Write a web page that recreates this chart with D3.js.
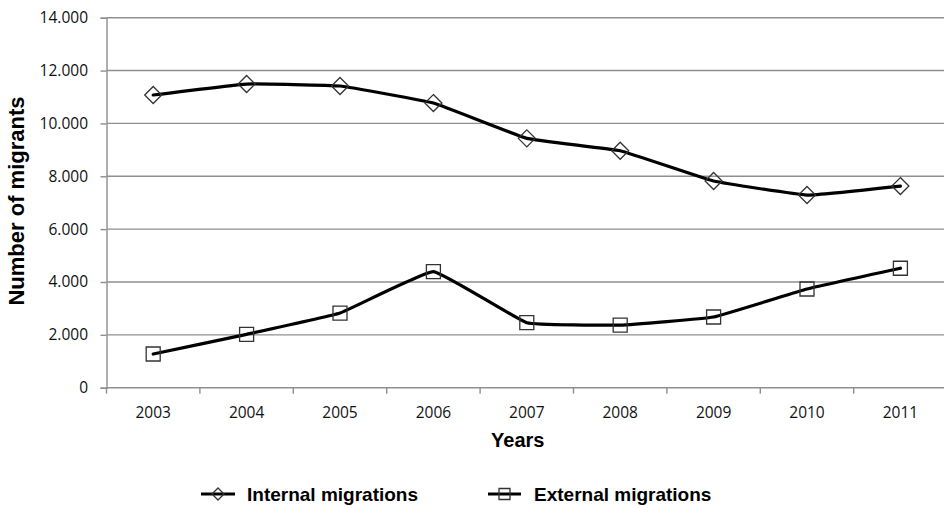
<!DOCTYPE html>
<html>
<head>
<meta charset="utf-8">
<script src="https://cdn.jsdelivr.net/npm/d3@7"></script>
<style>
  html, body { margin: 0; padding: 0; background: #fff; }
  svg { display: block; }
</style>
</head>
<body>
<svg id="chart" width="944" height="508"></svg>
<script>
// Data
const years = ["2003", "2004", "2005", "2006", "2007", "2008", "2009", "2010", "2011"];
const internalMigrations = [11075, 11490, 11415, 10770, 9435, 8965, 7820, 7290, 7630];
const externalMigrations = [1275, 2020, 2825, 4390, 2460, 2370, 2675, 3735, 4520];
const yTickValues = [0, 2000, 4000, 6000, 8000, 10000, 12000, 14000];
const seriesNames = ["Internal migrations", "External migrations"];
const seriesMarkers = ["diamond", "square"];

const svg = d3.select("#chart");
const W = 944, H = 508;
const plotLeft = 106.5, plotTop = 17.7, plotBottom = 387.7, step = 93.4;
const plotRight = plotLeft + step * years.length;

const x = d3.scaleBand().domain(years).range([plotLeft, plotRight]).paddingInner(0).paddingOuter(0);
const y = d3.scaleLinear().domain([0, 14000]).range([plotBottom, plotTop]);

const locale = d3.formatLocale({ decimal: ",", thousands: ".", grouping: [3], currency: ["", ""] });
const fmt = locale.format(",d");

const gridColor = "#8f8f8f";
const tickFont = "'Open Sans', 'Liberation Sans', sans-serif";

// Horizontal gridlines
svg.append("g").selectAll("line").data(yTickValues.filter(d => d > 0)).join("line")
  .attr("x1", plotLeft).attr("x2", W)
  .attr("y1", d => y(d)).attr("y2", d => y(d))
  .attr("stroke", gridColor).attr("stroke-width", 1.4);

// Y axis
const yAxis = svg.append("g").attr("transform", `translate(${plotLeft},0)`)
  .call(d3.axisLeft(y).tickValues(yTickValues).tickFormat(fmt).tickSize(6).tickPadding(12.5));
yAxis.select(".domain").attr("stroke", gridColor).attr("stroke-width", 1.4);
yAxis.selectAll(".tick line").attr("stroke", gridColor).attr("stroke-width", 1.4);
yAxis.selectAll(".tick text").attr("font-family", tickFont).attr("font-size", 15.5).attr("fill", "#111");

// X axis: labels centred in each category, ticks on category boundaries
const xAxis = svg.append("g").attr("transform", `translate(0,${plotBottom})`)
  .call(d3.axisBottom(x).tickSize(0).tickPadding(19.4));
xAxis.select(".domain").remove();
xAxis.selectAll(".tick text").attr("font-family", tickFont).attr("font-size", 15.5).attr("fill", "#111");
svg.append("line").attr("x1", plotLeft).attr("x2", W).attr("y1", plotBottom).attr("y2", plotBottom)
  .attr("stroke", gridColor).attr("stroke-width", 1.4);
svg.append("g").selectAll("line").data(years).join("line")
  .attr("x1", d => x(d)).attr("x2", d => x(d))
  .attr("y1", plotBottom).attr("y2", plotBottom + 6)
  .attr("stroke", gridColor).attr("stroke-width", 1.4);

// Axis titles
const titleFont = "'Liberation Sans', Arial, sans-serif";
svg.append("text").attr("x", (plotLeft + plotRight) / 2 - 9).attr("y", 447)
  .attr("text-anchor", "middle").attr("font-family", titleFont).attr("font-weight", "bold")
  .attr("font-size", 20).attr("fill", "#000").text("Years");
svg.append("text").attr("transform", "translate(24,201) rotate(-90)")
  .attr("text-anchor", "middle").attr("font-family", titleFont).attr("font-weight", "bold")
  .attr("font-size", 22).attr("fill", "#000").text("Number of migrants");

// Markers
function markerPath(type, r) {
  if (type === "diamond") return `M0,${-r}L${r},0L0,${r}L${-r},0Z`;
  return `M${-r},${-r}H${r}V${r}H${-r}Z`;
}

const seriesData = [internalMigrations, externalMigrations];
// Lightly smoothed lines
const line = d3.line()
  .x((d, i) => x(years[i]) + x.bandwidth() / 2)
  .y(d => y(d))
  .curve(d3.curveCardinal.tension(0.72));

seriesData.forEach((vals, si) => {
  const g = svg.append("g");
  g.append("path").datum(vals).attr("d", line)
    .attr("fill", "none").attr("stroke", "#000").attr("stroke-width", 3.2)
    .attr("stroke-linejoin", "round").attr("stroke-linecap", "round");
  g.selectAll("path.m").data(vals).join("path").attr("class", "m")
    .attr("transform", (d, i) => `translate(${x(years[i]) + x.bandwidth() / 2},${y(d)})`)
    .attr("d", markerPath(seriesMarkers[si], seriesMarkers[si] === "diamond" ? 8.5 : 7))
    .attr("fill", "none").attr("stroke", "#333").attr("stroke-width", 1.3);
});

// Legend
const legendItems = [{ x0: 201, x1: 235, tx: 247 }, { x0: 488, x1: 521, tx: 534 }];
const ly = 494;
seriesNames.forEach((name, i) => {
  const L = legendItems[i];
  const g = svg.append("g");
  g.append("line").attr("x1", L.x0).attr("x2", L.x1).attr("y1", ly).attr("y2", ly)
    .attr("stroke", "#000").attr("stroke-width", 3);
  g.append("path").attr("transform", `translate(${(L.x0 + L.x1) / 2},${ly})`)
    .attr("d", markerPath(seriesMarkers[i], seriesMarkers[i] === "diamond" ? 6 : 5.5))
    .attr("fill", "none").attr("stroke", "#333").attr("stroke-width", 1.3);
  g.append("text").attr("x", L.tx).attr("y", ly + 7)
    .attr("font-family", titleFont).attr("font-weight", "bold").attr("font-size", 19)
    .attr("fill", "#000").text(name);
});
</script>
</body>
</html>
